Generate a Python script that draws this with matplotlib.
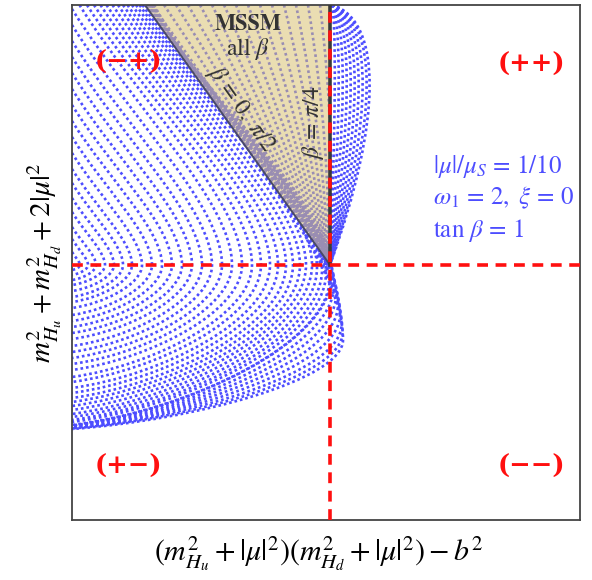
import numpy as np
import matplotlib.pyplot as plt
from matplotlib.path import Path
from matplotlib.patches import PathPatch, Polygon

plt.rcParams['font.family'] = 'STIXGeneral'
plt.rcParams['mathtext.fontset'] = 'stix'

BLUE = '#4d4dff'
RED = '#ff1010'
GRAY = '#333333'

x_left, x_right = -2.58, 2.50
y_bottom, y_top = -2.55, 2.60

# main family of scan curves: upper entry point, right-most point, lower exit height
entry_x = [-2.58] * 17 + [-2.505, -2.43, -2.36, -2.295, -2.235, -2.175, -2.12, -2.07,
                          -2.025, -1.98, -1.94, -1.905, -1.875, -1.845,
                          -1.83, -1.82, -1.81, -1.80, -1.79, -1.78, -1.77, -1.76]
entry_y = [0.13, 0.26, 0.38, 0.53, 0.67, 0.82, 0.96, 1.12, 1.28, 1.44, 1.60, 1.76, 1.92,
           2.08, 2.24, 2.40, 2.56] + [2.60] * 22
vertex_x = [-2.50, -2.42, -2.34, -2.25, -2.16, -2.07, -1.98, -1.88, -1.78, -1.68, -1.58,
            -1.48, -1.38, -1.28, -1.18, -1.08, -0.98, -0.88, -0.78, -0.69, -0.60, -0.52,
            -0.44, -0.37, -0.30, -0.24, -0.18, -0.13, -0.08, -0.04, 0.00,
            0.02, 0.04, 0.06, 0.08, 0.10, 0.115, 0.125, 0.13]
vertex_y = [0.0] * 27 + [-0.03, -0.05, -0.08, -0.12,
                         -0.10, -0.20, -0.30, -0.40, -0.50, -0.60, -0.68, -0.75]
exit_y = [-0.05, -0.10, -0.15, -0.20, -0.26, -0.32, -0.37, -0.43, -0.50, -0.56, -0.62,
          -0.68, -0.74, -0.81, -0.87, -0.93, -0.99, -1.05, -1.12, -1.17, -1.23, -1.28,
          -1.33, -1.37, -1.41, -1.45, -1.49, -1.52, -1.55, -1.57, -1.60,
          -1.605, -1.61, -1.615, -1.62, -1.625, -1.63, -1.635, -1.64]

# curves fanning into the origin inside the MSSM wedge
fan_top_x = [-1.78, -1.66, -1.54, -1.42, -1.30, -1.18, -1.06, -0.94, -0.82, -0.70,
             -0.58, -0.46, -0.34, -0.22, -0.10]
# curves bulging right of beta = pi/4
bulge_x = [0.05, 0.09, 0.13, 0.17, 0.21, 0.25, 0.29, 0.33, 0.37, 0.40]

fig = plt.figure(figsize=(5.92, 5.80), dpi=100)
ax = fig.add_axes([72 / 592, 60 / 580, 508 / 592, 515 / 580])
ax.set_xlim(x_left, x_right)
ax.set_ylim(y_bottom, y_top)
ax.set_xticks([])
ax.set_yticks([])
for s in ax.spines.values():
    s.set_color('#444444')
    s.set_linewidth(1.3)

dot_style = dict(fill=False, edgecolor=BLUE, lw=1.9, linestyle=(0, (1, 1.1)), zorder=1)

for ex, ey, vx, vy, yo in zip(entry_x, entry_y, vertex_x, vertex_y, exit_y):
    verts = [(ex, ey),
             (ex + 0.4 * (vx - ex), ey - 0.4 * (ey - vy)),
             (vx, vy + 0.25 * (ey - vy)),
             (vx, vy),
             (vx, vy - 0.45 * (vy - yo)),
             (x_left + 0.45 * (vx - x_left), yo + 0.1 * (vy - yo)),
             (x_left, yo)]
    codes = [Path.MOVETO] + [Path.CURVE4] * 6
    ax.add_patch(PathPatch(Path(verts, codes), **dot_style))

for tx in fan_top_x:
    verts = [(tx, y_top), (0.5 * tx + 0.12, 1.2), (-0.02, 0.0)]
    codes = [Path.MOVETO, Path.CURVE3, Path.CURVE3]
    ax.add_patch(PathPatch(Path(verts, codes), **dot_style))

for bx in bulge_x:
    cx = 0.02 + 1.33 * (bx - 0.02)
    verts = [(0.02, y_top), (cx, 2.45), (cx, 1.45), (0.0, 0.0)]
    codes = [Path.MOVETO, Path.CURVE4, Path.CURVE4, Path.CURVE4]
    ax.add_patch(PathPatch(Path(verts, codes), **dot_style))

# MSSM wedge
ax.add_patch(Polygon([(-1.85, y_top), (0, y_top), (0, 0)], closed=True,
                     facecolor=(0.85, 0.76, 0.45), alpha=0.55, edgecolor='none', zorder=2))
ax.plot([-1.85, 0], [y_top, 0], color='#4a4a68', lw=1.4, zorder=3)
ax.plot([0, 0], [0, y_top], color='#3a3a3a', lw=2.6, zorder=3)

ax.axvline(0, color=RED, lw=2.6, dashes=(3.0, 2.1), zorder=4)
ax.axhline(0, color=RED, lw=2.6, dashes=(3.0, 2.1), zorder=4)

ax.text(-0.82, 2.41, 'MSSM', fontsize=16, fontweight='bold', color=GRAY, ha='center', va='center', zorder=5)
ax.text(-0.82, 2.16, r'all $\beta$', fontsize=17, color=GRAY, ha='center', va='center', zorder=5)
ax.text(-0.88, 1.56, r'$\beta\,=\,0,\ \pi/2$', fontsize=17, color=GRAY, rotation=-54.6,
        ha='center', va='center', rotation_mode='anchor', zorder=5)
ax.text(-0.17, 1.43, r'$\beta\,=\,\pi/4$', fontsize=17, color=GRAY, rotation=90,
        ha='center', va='center', zorder=5)

quad = dict(fontsize=18.5, fontweight='bold', color=RED, family='DejaVu Serif',
            ha='center', va='center', zorder=5)
ax.text(-2.02, 2.03, '(\u2212+)', **quad)
ax.text(2.01, 2.01, '(++)', **quad)
ax.text(-2.02, -2.01, '(+\u2212)', **quad)
ax.text(2.01, -2.01, '(\u2212\u2212)', **quad)

info = dict(fontsize=18, color=BLUE, ha='left', va='center')
ax.text(1.03, 0.99, r'$|\mu|/\mu_S\,=\,1/10$', **info)
ax.text(1.03, 0.67, r'$\omega_1\,=\,2,\ \xi\,=\,0$', **info)
ax.text(1.03, 0.34, r'$\tan\,\beta\,=\,1$', **info)

ax.set_xlabel(r'$(m_{H_u}^2+|\mu|^2)(m_{H_d}^2+|\mu|^2)-b^2$', fontsize=21.5, labelpad=10)
ax.xaxis.label.set_x(0.485)
ax.set_ylabel(r'$m_{H_u}^2+m_{H_d}^2+2|\mu|^2$', fontsize=21, labelpad=6)

fig.savefig('out.png', dpi=100)
